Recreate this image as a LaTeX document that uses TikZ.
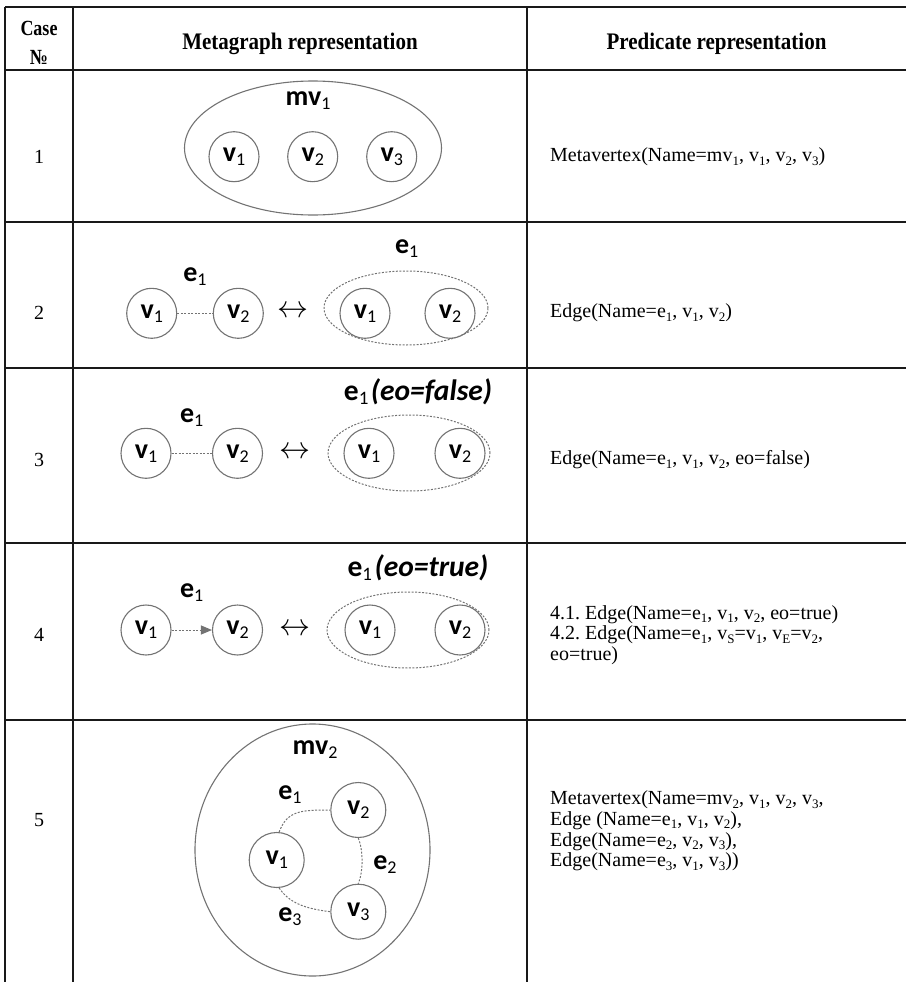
\documentclass[tikz,border=0pt]{standalone}
\usepackage{graphicx}
\usepackage{fontspec}
\setmainfont{Liberation Serif}
\newfontfamily\diagfont{Carlito}
\usetikzlibrary{arrows.meta,shapes.geometric}
\frenchspacing

% bold vertex / edge name with a lighter subscript
\newcommand\vx[2]{{\diagfont\fontsize{28}{28}\selectfont\bfseries #1}\raisebox{-4pt}{\diagfont\fontsize{18}{18}\selectfont #2}}
\newcommand\vxbig[2]{{\diagfont\fontsize{29.5}{29.5}\selectfont\bfseries #1}\raisebox{-4pt}{\diagfont\fontsize{19}{19}\selectfont #2}}
\newcommand\vxit[1]{{\diagfont\fontsize{29.5}{29.5}\selectfont\bfseries\itshape #1}}
% subscript in the predicate column
\newcommand\ps[1]{\raisebox{-3.5pt}{\fontsize{13}{13}\selectfont #1}}

\tikzset{
  grid/.style={line width=2pt, draw=black!90},
  vert/.style={circle, draw=black!55, line width=1.1pt, minimum size=50pt, inner sep=0pt},
  bigvert/.style={vert, minimum size=55pt},
  container/.style={ellipse, draw=black!55, line width=1.1pt, inner sep=0pt},
  dotell/.style={ellipse, draw=black!55, line width=1pt, dash pattern=on 2pt off 1.5pt, inner sep=0pt},
  dotline/.style={draw=black!55, line width=1pt, dash pattern=on 2pt off 1.5pt},
  lbl/.style={inner sep=0pt},
  pred/.style={anchor=west, align=left, inner sep=0pt, font=\fontsize{20}{20.7}\selectfont},
  num/.style={font=\fontsize{20}{20}\selectfont, inner sep=0pt},
  head/.style={font=\bfseries\fontsize{21}{21}\selectfont, inner sep=0pt, anchor=base},
  equiv/.style={inner sep=0pt, scale=3.1},
}

\begin{document}
\begin{tikzpicture}[x=1pt, y=-1pt]
\useasboundingbox (0,0) rectangle (906,982);

% table rules
\foreach \yy in {7,70,222,368,543,720} \draw[grid] (5,\yy) -- (906,\yy);
\foreach \xx in {5,73,527} \draw[grid] (\xx,7) -- (\xx,982);

% header
\node[head] (hcase) at (39,36) {\scalebox{1}[1.2]{\fontsize{18}{18}\selectfont Case}};
\node[head] (hnum) at (39,65) {\scalebox{1}[1.2]{\fontsize{18}{18}\selectfont №}};
\node[head] (hmeta) at (300,50) {\scalebox{1}[1.13]{Metagraph representation}};
\node[head] (hpred) at (716.5,50) {\scalebox{1}[1.13]{Predicate representation}};

% case numbers
\node[num] (n1) at (39,157) {1};
\node[num] (n2) at (39,313) {2};
\node[num] (n3) at (39,460) {3};
\node[num] (n4) at (39,635) {4};
\node[num] (n5) at (39,820) {5};

% case 1: metavertex
\node[container, minimum width=257pt, minimum height=134pt] (mv1) at (313,148) {};
\node[lbl] (mv1l) at (308,101) {\vx{mv}{1}};
\node[vert] (a1) at (234,156.7) {\vx{v}{1}};
\node[vert] (a2) at (312.7,156.7) {\vx{v}{2}};
\node[vert] (a3) at (391.7,156.7) {\vx{v}{3}};

% case 2: edge
\node[vert] (b1) at (151.7,313.3) {\vx{v}{1}};
\node[vert] (b2) at (238.3,313.3) {\vx{v}{2}};
\draw[dotline] (b1) -- (b2);
\node[lbl] (b1l) at (195,277) {\vx{e}{1}};
\node[equiv] (beq) at (293,311.7) {$\leftrightarrow$};
\node[dotell, minimum width=164pt, minimum height=74pt] (be) at (406,308) {};
\node[vert] (bb1) at (365,313.3) {\vx{v}{1}};
\node[vert] (bb2) at (450,313.3) {\vx{v}{2}};
\node[lbl] (bel) at (406.7,249) {\vx{e}{1}};

% case 3: undirected edge
\node[vert] (c1) at (146,453.3) {\vx{v}{1}};
\node[vert] (c2) at (237.5,453.3) {\vx{v}{2}};
\draw[dotline] (c1) -- (c2);
\node[lbl] (c1l) at (191.7,418) {\vx{e}{1}};
\node[equiv] (ceq) at (295,453) {$\leftrightarrow$};
\node[dotell, minimum width=162pt, minimum height=76pt] (ce) at (409,453) {};
\node[vert] (cc1) at (369,453.3) {\vx{v}{1}};
\node[vert] (cc2) at (460,453.3) {\vx{v}{2}};
\node[lbl] (cel) at (418,392) {\vxbig{e}{1}~\vxit{(eo=false)}};

% case 4: directed edge
\node[vert] (d1) at (146,630) {\vx{v}{1}};
\node[vert] (d2) at (237.5,630) {\vx{v}{2}};
\draw[dotline, -{Triangle[length=11pt,width=9pt,fill=black!55]}] (d1) -- (d2);
\node[lbl] (d1l) at (191.7,593) {\vx{e}{1}};
\node[equiv] (deq) at (295,630) {$\leftrightarrow$};
\node[dotell, minimum width=162pt, minimum height=76pt] (de) at (408,630) {};
\node[vert] (dd1) at (370,630) {\vx{v}{1}};
\node[vert] (dd2) at (460,630) {\vx{v}{2}};
\node[lbl] (del) at (418,568) {\vxbig{e}{1}~\vxit{(eo=true)}};

% case 5: metavertex with inner edges
\node[container, minimum width=235pt, minimum height=252pt] (mv2) at (312.5,850) {};
\node[lbl] (mv2l) at (315,750) {\vx{mv}{2}};
\node[bigvert] (f1) at (276.7,860) {\vx{v}{1}};
\node[bigvert] (f2) at (358.3,810) {\vx{v}{2}};
\node[bigvert] (f3) at (358.3,911.7) {\vx{v}{3}};
\draw[dotline] (f1.85) .. controls +(8,-22) and +(-28,0) .. (f2.west);
\draw[dotline] (f2.south) .. controls +(5,12) and +(5,-12) .. (f3.north);
\draw[dotline] (f1.275) .. controls +(10,15) and +(-25,-3) .. (f3.west);
\node[lbl] (e1l) at (290,795) {\vx{e}{1}};
\node[lbl] (e2l) at (385,865) {\vx{e}{2}};
\node[lbl] (e3l) at (290,917) {\vx{e}{3}};

% predicate column
\node[pred] (p1) at (550,157) {Metavertex(Name=mv\ps{1}, v\ps{1}, v\ps{2}, v\ps{3})};
\node[pred] (p2) at (550,313) {Edge(Name=e\ps{1}, v\ps{1}, v\ps{2})};
\node[pred] (p3) at (550,460) {Edge(Name=e\ps{1}, v\ps{1}, v\ps{2}, eo=false)};
\node[pred] (p4) at (550,635) {4.1. Edge(Name=e\ps{1}, v\ps{1}, v\ps{2}, eo=true)\\
  4.2. Edge(Name=e\ps{1}, v\ps{S}=v\ps{1}, v\ps{E}=v\ps{2},\\
  eo=true)};
\node[pred] (p5) at (550,831) {Metavertex(Name=mv\ps{2}, v\ps{1}, v\ps{2}, v\ps{3},\\
  Edge (Name=e\ps{1}, v\ps{1}, v\ps{2}),\\
  Edge(Name=e\ps{2}, v\ps{2}, v\ps{3}),\\
  Edge(Name=e\ps{3}, v\ps{1}, v\ps{3}))};
\end{tikzpicture}
\end{document}
